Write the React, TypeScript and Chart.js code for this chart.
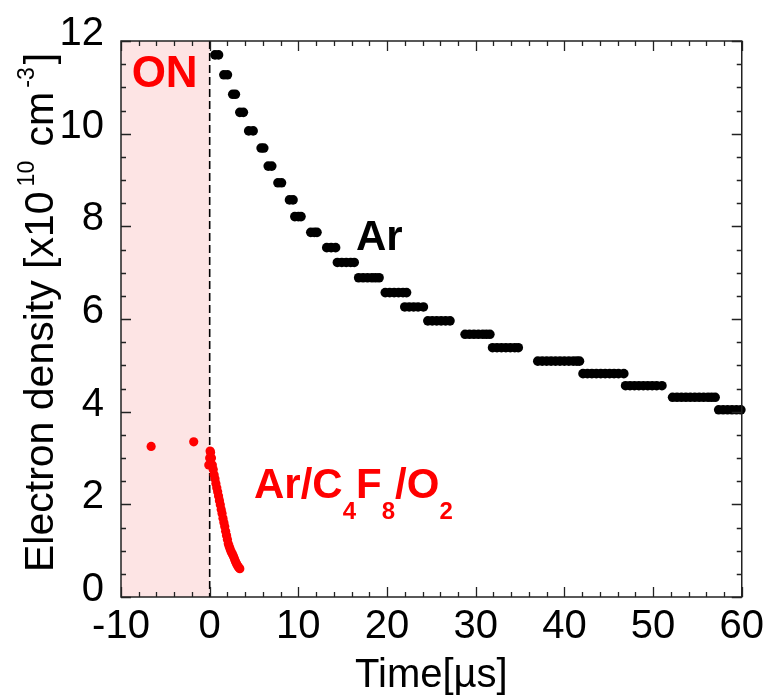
import { useEffect, useRef } from "react";
import { Chart, registerables } from "chart.js";

Chart.register(...registerables);

// ---- data ----
const arTime = [
  0.6, 1.0,
  1.6, 2.0,
  2.6, 2.9,
  3.4, 3.8,
  4.4, 4.9,
  5.8, 6.1,
  6.6, 7.0,
  7.7, 8.1,
  9.0, 9.4,
  9.6, 10.0, 10.3,
  11.4, 11.8, 12.1,
  13.2, 13.7, 14.2,
  14.4, 14.9, 15.4, 15.9, 16.3,
  16.8, 17.3, 17.8, 18.3, 18.7, 19.1,
  19.8, 20.3, 20.8, 21.3, 21.8, 22.2,
  22.0, 22.5, 23.0, 23.5, 24.1,
  24.6, 25.1, 25.6, 26.1, 26.6, 27.1,
  28.8, 29.3, 29.8, 30.3, 30.8, 31.2, 31.6,
  31.9, 32.4, 32.9, 33.4, 33.9, 34.4, 34.8,
  37.0, 37.5, 38.0, 38.5, 39.0, 39.5, 40.0, 40.5, 41.0, 41.4, 41.7,
  42.1, 42.6, 43.1, 43.6, 44.1, 44.6, 45.1, 45.6, 46.1, 46.7,
  46.9, 47.4, 47.9, 48.4, 48.9, 49.4, 49.9, 50.4, 51.0,
  52.2, 52.7, 53.2, 53.7, 54.2, 54.7, 55.2, 55.7, 56.2, 56.6, 57.0,
  57.4, 57.9, 58.4, 58.9, 59.4, 59.9,
];
const arDensity = [
  11.7, 11.7,
  11.27, 11.27,
  10.85, 10.85,
  10.46, 10.46,
  10.06, 10.06,
  9.69, 9.69,
  9.3, 9.3,
  8.94, 8.94,
  8.57, 8.57,
  8.21, 8.21, 8.21,
  7.87, 7.87, 7.87,
  7.54, 7.54, 7.54,
  7.22, 7.22, 7.22, 7.22, 7.22,
  6.89, 6.89, 6.89, 6.89, 6.89, 6.89,
  6.57, 6.57, 6.57, 6.57, 6.57, 6.57,
  6.26, 6.26, 6.26, 6.26, 6.26,
  5.96, 5.96, 5.96, 5.96, 5.96, 5.96,
  5.67, 5.67, 5.67, 5.67, 5.67, 5.67, 5.67,
  5.38, 5.38, 5.38, 5.38, 5.38, 5.38, 5.38,
  5.09, 5.09, 5.09, 5.09, 5.09, 5.09, 5.09, 5.09, 5.09, 5.09, 5.09,
  4.82, 4.82, 4.82, 4.82, 4.82, 4.82, 4.82, 4.82, 4.82, 4.82,
  4.56, 4.56, 4.56, 4.56, 4.56, 4.56, 4.56, 4.56, 4.56,
  4.31, 4.31, 4.31, 4.31, 4.31, 4.31, 4.31, 4.31, 4.31, 4.31, 4.31,
  4.04, 4.04, 4.04, 4.04, 4.04, 4.04,
];

const mixTime = [
  -6.6, -1.8,
  -0.1, 0.0, 0.05, 0.1, 0.2, 0.3, 0.4, 0.5, 0.6, 0.7, 0.8, 0.9, 1.0,
  1.1, 1.2, 1.3, 1.4, 1.5, 1.6, 1.7, 1.8, 1.9, 2.0, 2.1, 2.2, 2.3,
  2.4, 2.5, 2.6, 2.7, 2.8, 2.9, 3.0, 3.1, 3.2, 3.3, 3.4,
];
const mixDensity = [
  3.25, 3.35,
  2.85, 3.0, 3.15, 3.12, 3.0, 2.85, 2.75, 2.64, 2.55, 2.45, 2.36, 2.27, 2.18,
  2.08, 1.99, 1.89, 1.8, 1.7, 1.61, 1.52, 1.42, 1.33, 1.24, 1.15, 1.09, 1.04,
  0.99, 0.95, 0.91, 0.87, 0.82, 0.77, 0.73, 0.69, 0.66, 0.63, 0.61,
];

const xTickValues = [-10, 0, 10, 20, 30, 40, 50, 60];
const yTickValues = [0, 2, 4, 6, 8, 10, 12];
const onWindow = [-10, 0];

const FONT = "'Liberation Sans', Arial, Helvetica, sans-serif";
const RED = "#ff0000";

type Seg = { t: string; size: number; dy: number; bold?: boolean; gap?: number };

const yTitle: Seg[] = [
  { t: "Electron density [x10", size: 41, dy: 0 },
  { t: "10", size: 23, dy: -19, gap: 5 },
  { t: " cm", size: 41, dy: 0, gap: 3 },
  { t: "-3", size: 23, dy: -19, gap: 4 },
  { t: "]", size: 41, dy: 0, gap: 3 },
];
const mixLabel: Seg[] = [
  { t: "Ar/C", size: 42, dy: 0, bold: true },
  { t: "4", size: 24, dy: 21, bold: true },
  { t: "F", size: 42, dy: 0, bold: true },
  { t: "8", size: 24, dy: 21, bold: true },
  { t: "/O", size: 42, dy: 0, bold: true },
  { t: "2", size: 24, dy: 21, bold: true },
];

function drawSegs(ctx: CanvasRenderingContext2D, segs: Seg[], color: string) {
  let x = 0;
  ctx.fillStyle = color;
  ctx.textBaseline = "alphabetic";
  ctx.textAlign = "left";
  for (const s of segs) {
    x += s.gap || 0;
    ctx.font = `${s.bold ? "bold " : ""}${s.size}px ${FONT}`;
    ctx.fillText(s.t, x, s.dy);
    x += ctx.measureText(s.t).width;
  }
}

const decor = {
  id: "decor",
  beforeDatasetsDraw(chart: any) {
    const { ctx, chartArea: a, scales } = chart;
    const x = scales.x;
    const x0 = x.getPixelForValue(onWindow[0]);
    const x1 = x.getPixelForValue(onWindow[1]);
    ctx.save();
    ctx.fillStyle = "rgb(253,228,228)";
    ctx.fillRect(x0, a.top, x1 - x0, a.bottom - a.top);
    ctx.setLineDash([8, 4]);
    ctx.strokeStyle = "#000";
    ctx.lineWidth = 1.6;
    ctx.beginPath();
    ctx.moveTo(x1, a.top);
    ctx.lineTo(x1, a.bottom);
    ctx.stroke();
    ctx.restore();
  },
  afterDatasetsDraw(chart: any) {
    const { ctx, chartArea: a, scales } = chart;
    const x = scales.x;
    const y = scales.y;
    ctx.save();
    ctx.strokeStyle = "#222";
    ctx.lineWidth = 1.5;
    ctx.strokeRect(a.left, a.top, a.right - a.left, a.bottom - a.top);
    ctx.lineWidth = 1.3;
    ctx.beginPath();
    for (let i = -5; i <= 30; i++) {
      const v = i * 2;
      const px = Math.round(x.getPixelForValue(v)) + 0.5;
      const len = v % 10 === 0 ? 10 : 5;
      ctx.moveTo(px, a.bottom);
      ctx.lineTo(px, a.bottom - len);
      ctx.moveTo(px, a.top);
      ctx.lineTo(px, a.top + len);
    }
    for (let i = 0; i <= 24; i++) {
      const v = i * 0.5;
      const py = Math.round(y.getPixelForValue(v)) + 0.5;
      const len = v % 2 === 0 ? 10 : 5;
      ctx.moveTo(a.left, py);
      ctx.lineTo(a.left + len, py);
      ctx.moveTo(a.right, py);
      ctx.lineTo(a.right - len, py);
    }
    ctx.stroke();
    ctx.restore();
  },
  afterDraw(chart: any) {
    const { ctx, chartArea: a, scales } = chart;
    const x = scales.x;
    const y = scales.y;
    ctx.save();
    ctx.fillStyle = "#000";
    ctx.font = `40px ${FONT}`;
    ctx.textAlign = "center";
    ctx.textBaseline = "alphabetic";
    ctx.fillText("Time[\u00b5s]", (a.left + a.right) / 2, 687);
    ctx.restore();

    ctx.save();
    ctx.translate(53, 572);
    ctx.rotate(-Math.PI / 2);
    drawSegs(ctx, yTitle, "#000");
    ctx.restore();

    ctx.save();
    ctx.fillStyle = RED;
    ctx.font = `bold 44px ${FONT}`;
    ctx.textBaseline = "alphabetic";
    ctx.textAlign = "left";
    ctx.fillText("ON", x.getPixelForValue(-8.8), y.getPixelForValue(11.0));
    ctx.fillStyle = "#000";
    ctx.font = `bold 42px ${FONT}`;
    ctx.fillText("Ar", x.getPixelForValue(16.5), y.getPixelForValue(7.5));
    ctx.restore();

    ctx.save();
    ctx.translate(x.getPixelForValue(5.0), y.getPixelForValue(2.14));
    drawSegs(ctx, mixLabel, RED);
    ctx.restore();
  },
};

export default function App() {
  const ref = useRef<HTMLCanvasElement | null>(null);
  useEffect(() => {
    if (!ref.current) return;
    const chart = new Chart(ref.current, {
      type: "scatter",
      data: {
        datasets: [
          {
            label: "Ar",
            data: arTime.map((t, i) => ({ x: t, y: arDensity[i] })),
            backgroundColor: "#000",
            borderWidth: 0,
            pointRadius: 4.8,
            pointHoverRadius: 4.8,
            clip: false as any,
          },
          {
            label: "Ar/C4F8/O2",
            data: mixTime.map((t, i) => ({ x: t, y: mixDensity[i] })),
            backgroundColor: RED,
            borderWidth: 0,
            pointRadius: 4.6,
            pointHoverRadius: 4.6,
          },
        ],
      },
      options: {
        animation: false,
        responsive: true,
        maintainAspectRatio: false,
        devicePixelRatio: 1,
        layout: { padding: { top: 35, right: 25, left: 0, bottom: 0 } },
        plugins: { legend: { display: false }, tooltip: { enabled: false } },
        events: [],
        scales: {
          x: {
            type: "linear",
            min: -10,
            max: 60,
            afterBuildTicks: (s: any) => {
              s.ticks = xTickValues.map((v) => ({ value: v }));
            },
            afterFit: (s: any) => {
              s.height = 103;
            },
            ticks: {
              font: { family: FONT, size: 40 },
              color: "#000",
              padding: 6,
              maxRotation: 0,
              autoSkip: false,
            },
            grid: { display: false, drawTicks: false },
            border: { display: false },
          },
          y: {
            type: "linear",
            min: 0,
            max: 12,
            afterBuildTicks: (s: any) => {
              s.ticks = yTickValues.map((v) => ({ value: v }));
            },
            afterFit: (s: any) => {
              s.width = 121;
            },
            ticks: {
              font: { family: FONT, size: 40 },
              color: "#000",
              padding: 17,
              labelOffset: -7,
              autoSkip: false,
            },
            grid: { display: false, drawTicks: false },
            border: { display: false },
          },
        },
      },
      plugins: [decor],
    });
    return () => chart.destroy();
  }, []);
  return (
    <div style={{ position: "fixed", left: 0, top: 0, width: 770, height: 700, background: "#fff" }}>
      <canvas ref={ref} />
    </div>
  );
}
